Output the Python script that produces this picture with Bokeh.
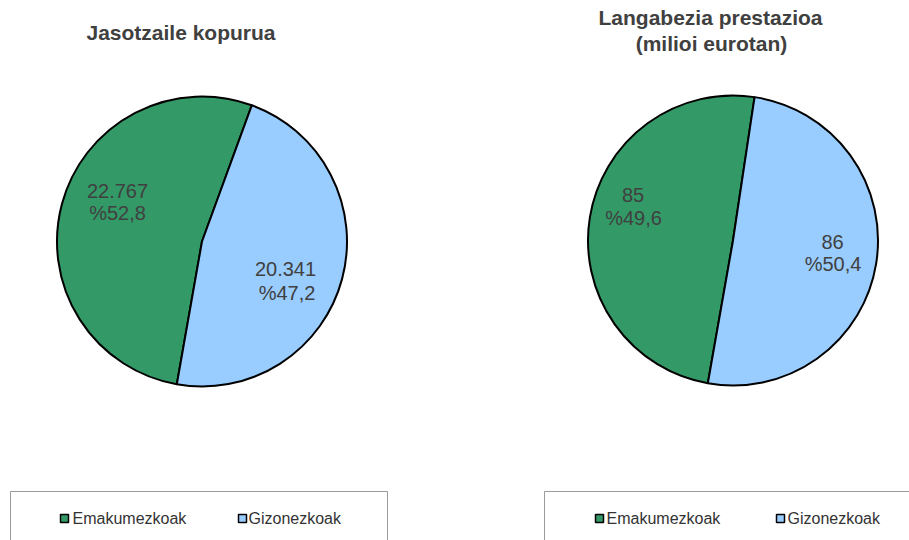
import math
from bokeh.plotting import figure
from bokeh.models import Range1d
from bokeh.core.properties import value
from bokeh.embed import file_html
from bokeh.resources import INLINE

# ---- data ----
categories = ["Emakumezkoak", "Gizonezkoak"]
recipients_values = [22767, 20341]
recipients_pct = [52.8, 47.2]
benefit_values = [85, 86]
benefit_pct = [49.6, 50.4]
titles = [["Jasotzaile kopurua"], ["Langabezia prestazioa", "(milioi eurotan)"]]
colors = ["#339966", "#99CCFF"]

# ---- layout (page px -> data) ----
W, H = 909, 540
def dx(px):
    return px
def dy(py):
    return H - py

FONT = "Liberation Sans"
TXT = "#404040"
first_slice_angle = 190.0  # degrees clockwise from 12 o'clock
R = 145

panels = [
    dict(values=recipients_values, pct=recipients_pct, title=titles[0],
         center=(201.5, 241), title_pos=[(180.5, 32)],
         labels=[((117, 190), (117, 212)), ((285, 268), (286.5, 292))],
         box=(10, 387), legend=[(64, 72), (242, 248)]),
    dict(values=benefit_values, pct=benefit_pct, title=titles[1],
         center=(732.5, 240), title_pos=[(710, 17), (711, 43)],
         labels=[((632.5, 194), (633, 217)), ((832, 241), (832.5, 263))],
         box=(544, 921), legend=[(599, 606), (780, 787)]),
]

p = figure(width=W, height=H, x_range=Range1d(0, W), y_range=Range1d(0, H),
           output_backend="svg", toolbar_location=None, min_border=0)
p.axis.visible = False
p.grid.visible = False
p.outline_line_color = None
p.background_fill_color = "white"


def fmt_val(v):
    return f"{v:,}".replace(",", ".")


def fmt_pct(v):
    return "%" + f"{v:.1f}".replace(".", ",")


for panel in panels:
    cx, cy = panel["center"]
    starts, ends = [], []
    a = first_slice_angle
    for pc in panel["pct"]:
        b = a + pc * 3.6
        starts.append(math.radians(90 - a))
        ends.append(math.radians(90 - b))
        a = b
    p.wedge(x=[dx(cx)] * 2, y=[dy(cy)] * 2, radius=R, start_angle=starts, end_angle=ends,
            direction="clock", fill_color=colors, line_color="black", line_width=2)

    # data labels
    for i, ((p1, p2)) in enumerate(panel["labels"]):
        p.text(x=[dx(p1[0]), dx(p2[0])], y=[dy(p1[1]), dy(p2[1])],
               text=[fmt_val(panel["values"][i]), fmt_pct(panel["pct"][i])],
               text_font=value(FONT), text_font_size="20px", text_color=TXT,
               text_align="center", text_baseline="middle")

    # title
    for (tx, ty), line in zip(panel["title_pos"], panel["title"]):
        p.text(x=[dx(tx)], y=[dy(ty)], text=[line], text_font=value(FONT),
               text_font_size="21px", text_font_style="bold", text_color=TXT,
               text_align="center", text_baseline="middle")

    # legend box
    x0, x1 = panel["box"]
    p.line(x=[dx(x0), dx(x0), dx(x1), dx(x1)], y=[dy(560), dy(491), dy(491), dy(560)],
           line_color="#9a9a9a", line_width=1)
    for (sx, tx), cat, col in zip(panel["legend"], categories, colors):
        p.scatter(x=[dx(sx)], y=[dy(518)], marker="square", size=8,
                  fill_color=col, line_color="black", line_width=1.5)
        p.text(x=[dx(tx)], y=[dy(518)], text=[cat], text_font=value(FONT),
               text_font_size="16px", text_color="#333333",
               text_align="left", text_baseline="middle")

open("out.html", "w").write(file_html(p, INLINE))
